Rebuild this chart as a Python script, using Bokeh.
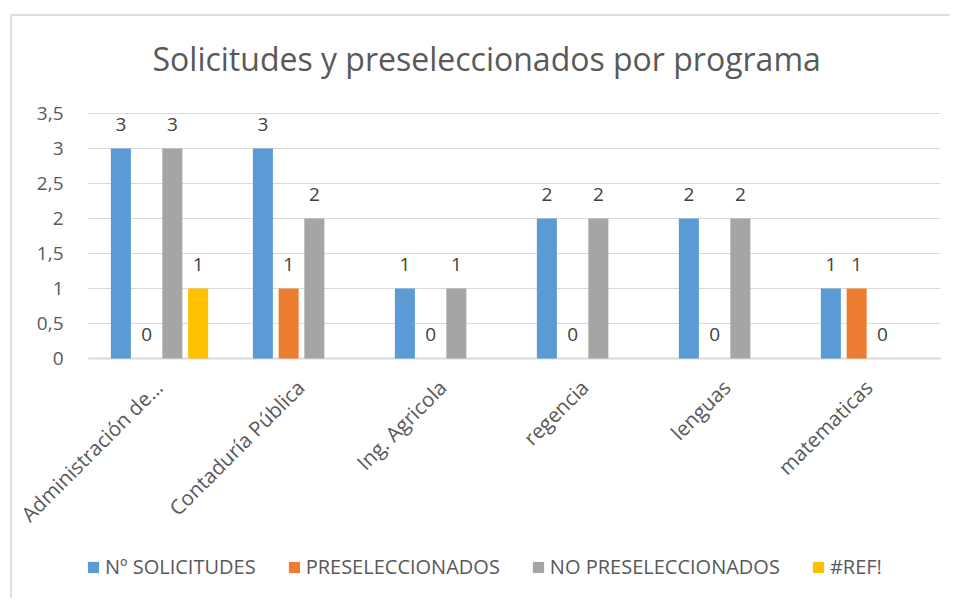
from math import pi
from bokeh.plotting import figure
from bokeh.models import (ColumnDataSource, Range1d, Legend, LegendItem)
from bokeh.core.properties import value
from bokeh.transform import dodge
from bokeh.embed import file_html
from bokeh.resources import INLINE

# ---- data ----
categories = ["Administración de…", "Contaduría Pública", "Ing. Agricola",
              "regencia", "lenguas", "matematicas"]
solicitudes = [3, 3, 1, 2, 2, 1]
preseleccionados = [0, 1, 0, 0, 0, 1]
no_preseleccionados = [3, 2, 1, 2, 2, 0]
ref_error = [1, None, None, None, None, None]
series_names = ["Nº SOLICITUDES", "PRESELECCIONADOS", "NO PRESELECCIONADOS", "#REF!"]
y_ticks = [0, 0.5, 1, 1.5, 2, 2.5, 3, 3.5]
y_tick_labels = ["0", "0,5", "1", "1,5", "2", "2,5", "3", "3,5"]
title_text = "Solicitudes y preseleccionados por programa"

# ---- style ----
colors = ["#5B9BD5", "#ED7D31", "#A5A5A5", "#FFC000"]
offsets = [-0.272, -0.0905, 0.0905, 0.272]
bar_w = 0.141
FONT = "Open Sans"
TXT = "#595959"
GRID = "#d9d9d9"

# layout (pixels)
W, H = 950, 598
FRAME_TOP = 100                      # top of drawing area
AXIS_TOP = 113                       # pixel row of the highest tick
PLOT_LEFT, PLOT_RIGHT = 88, 940      # category band in pixels
AXIS_PX = 245                        # value axis 0..3.5 height in pixels
n = len(categories)
cat_px = (PLOT_RIGHT - PLOT_LEFT) / n
x_start = -PLOT_LEFT / cat_px
x_end = (W - PLOT_LEFT) / cat_px
y_top_tick = y_ticks[-1]
unit_px = AXIS_PX / y_top_tick
y_max = y_top_tick + (AXIS_TOP - FRAME_TOP) / unit_px
y_min = -(H - AXIS_TOP - AXIS_PX) / unit_px

p = figure(x_range=Range1d(x_start, x_end), y_range=Range1d(y_min, y_max),
           width=W, height=H, output_backend="svg", toolbar_location=None,
           title=title_text,
           min_border_left=0, min_border_right=0, min_border_top=FRAME_TOP,
           min_border_bottom=0)
p.border_fill_color = None
p.background_fill_color = None
p.styles = {"background": (
    "linear-gradient(#dedede,#dedede) 10px 14px / 2px calc(100% - 14px) no-repeat, "
    "linear-gradient(#dedede,#dedede) 10px 14px / calc(100% - 10px) 2px no-repeat, "
    "#ffffff")}

p.title.align = "left"
p.title.offset = 152
p.title.standoff = 42
p.title.text_font = FONT
p.title.text_font_size = "32px"
p.title.text_font_style = "normal"
p.title.text_color = TXT

p.outline_line_color = None
p.xgrid.grid_line_color = None
p.ygrid.grid_line_color = None
p.xaxis.visible = False
p.yaxis.visible = False

# gridlines across the category band, and the value labels
grid_src = ColumnDataSource(dict(y=y_ticks, lab=y_tick_labels,
                                 x0=[0] * len(y_ticks), x1=[n] * len(y_ticks)))
p.segment(x0="x0", x1="x1", y0="y", y1="y", source=grid_src,
          line_color=GRID, line_width=1)
p.text(x="x0", y="y", text="lab", source=grid_src, x_offset=-25,
       text_align="right", text_baseline="middle",
       text_font=value(FONT), text_font_size="19px", text_color=TXT)
p.segment(x0=[0], x1=[n], y0=[y_ticks[0]], y1=[y_ticks[0]],
          line_color=GRID, line_width=2)

cat_x = [i + 0.5 for i in range(n)]
all_series = [solicitudes, preseleccionados, no_preseleccionados, ref_error]
items = []
for name, vals, col, off in zip(series_names, all_series, colors, offsets):
    xs = [c for c, v in zip(cat_x, vals) if v is not None]
    ys = [v for v in vals if v is not None]
    src = ColumnDataSource(dict(x=xs, val=ys, lab=[str(v) for v in ys]))
    r = p.vbar(x=dodge("x", off), top="val", width=bar_w,
               source=src, fill_color=col, line_color=None)
    p.text(x=dodge("x", off), y="val", text="lab", source=src,
           text_align="center", text_baseline="middle", y_offset=-24,
           text_font_size="19px", text_color="#404040", text_font=value(FONT))
    items.append(LegendItem(label=name, renderers=[r]))

# category labels (rotated 45 degrees, ending under each category)
cat_src = ColumnDataSource(dict(x=cat_x, base=[0] * n, cat=categories))
p.text(x="x", y="base", text="cat", source=cat_src, angle=pi / 4,
       text_align="right", text_baseline="middle", x_offset=-1, y_offset=25,
       text_font=value(FONT), text_font_size="20.5px", text_color=TXT)

legend = Legend(items=items, orientation="horizontal", location=(86, 18),
                glyph_width=14, glyph_height=14, label_standoff=5, spacing=31,
                padding=0, margin=0, border_line_color=None,
                background_fill_color=None,
                label_text_font=FONT, label_text_font_size="20px",
                label_text_color=TXT)
p.add_layout(legend, "center")

open("out.html", "w").write(file_html(p, INLINE))
